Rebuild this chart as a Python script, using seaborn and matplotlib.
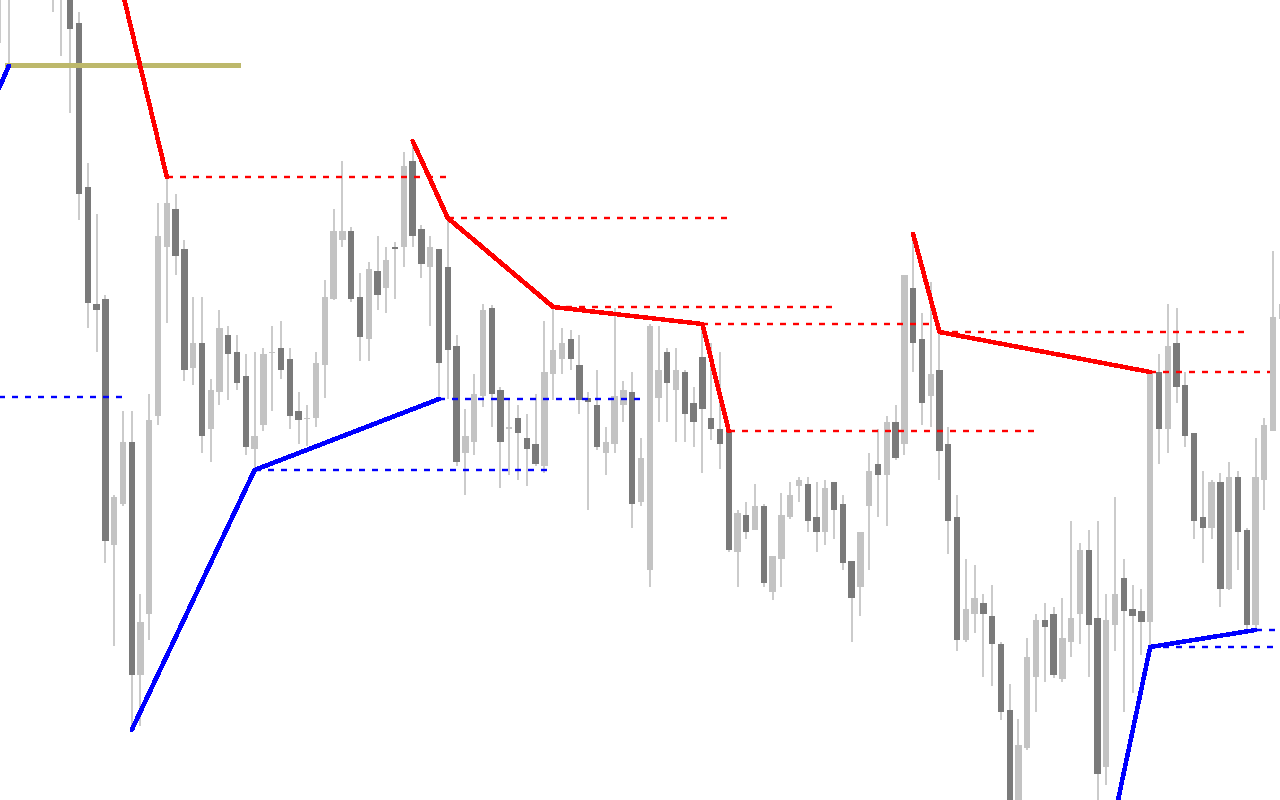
import numpy as np
import pandas as pd
import matplotlib
matplotlib.use("Agg")
import matplotlib.pyplot as plt
import seaborn as sns

# OHLC per bar (price points, bar index = position on the x axis)
opens = [820, 810, 830, 910, 1000, 1100, 1000, 860, 810, 777,
         613, 496, 501, 255, 296, 358, 125, 186, 384, 553,
         591, 551, 432, 457, 371, 408, 465, 448, 424, 351,
         375, 447, 452, 441, 389, 381, 382, 435, 501, 560,
         569, 503, 461, 529, 512, 553, 553, 639, 571, 533,
         551, 533, 454, 347, 358, 404, 492, 410, 371, 382,
         362, 356, 334, 426, 441, 461, 435, 402, 395, 347,
         356, 395, 408, 298, 230, 402, 448, 410, 428, 397,
         443, 382, 371, 369, 248, 285, 270, 294, 208, 241,
         283, 314, 316, 283, 268, 318, 296, 239, 213, 294,
         336, 325, 378, 356, 512, 461, 404, 430, 356, 283,
         160, 186, 197, 184, 156, 90, -10, 52, 123, 180,
         186, 121, 158, 186, 250, 182, 33, 175, 222, 191,
         189, 178, 428, 371, 457, 415, 367, 283, 272, 318,
         211, 323, 270, 175, 320, 369, 481]
highs = [880, 870, 930, 1030, 1120, 1136, 1010, 870, 820, 788,
         637, 586, 505, 305, 389, 389, 206, 406, 597, 623,
         606, 560, 503, 503, 421, 490, 474, 465, 446, 448,
         452, 474, 479, 452, 408, 395, 448, 520, 591, 639,
         573, 527, 538, 564, 553, 558, 648, 659, 575, 564,
         551, 582, 465, 391, 426, 496, 495, 413, 401, 395,
         386, 406, 479, 493, 472, 470, 465, 408, 430, 373,
         492, 419, 428, 362, 476, 474, 452, 452, 430, 413,
         476, 457, 448, 369, 290, 298, 316, 296, 244, 307,
         318, 323, 323, 318, 320, 318, 305, 239, 268, 347,
         371, 384, 395, 525, 566, 487, 518, 468, 373, 305,
         241, 235, 206, 215, 158, 116, 81, 162, 186, 197,
         193, 202, 279, 257, 270, 279, 206, 303, 241, 215,
         211, 428, 446, 496, 492, 428, 367, 329, 320, 327,
         338, 329, 272, 362, 382, 549, 510]
lows = [757, 734, 820, 900, 990, 980, 788, 744, 687, 580,
        472, 448, 237, 154, 294, 70, 74, 160, 375, 477,
        525, 419, 415, 347, 338, 395, 400, 410, 345, 330,
        369, 389, 421, 371, 356, 354, 373, 402, 500, 553,
        498, 439, 439, 490, 487, 501, 533, 553, 522, 474,
        401, 401, 334, 305, 345, 393, 373, 312, 325, 320,
        314, 334, 327, 400, 426, 430, 386, 290, 350, 325,
        347, 378, 272, 294, 213, 378, 378, 358, 358, 353,
        327, 360, 331, 248, 213, 261, 270, 213, 200, 213,
        281, 298, 268, 248, 255, 261, 230, 158, 184, 230,
        283, 274, 340, 345, 428, 375, 373, 320, 246, 149,
        158, 167, 123, 114, 80, -20, -30, 50, 88, 118,
        122, 118, 143, 156, 123, -98, 15, 149, 88, 107,
        145, 153, 336, 347, 397, 353, 261, 237, 261, 193,
        210, 230, 170, 170, 290, 369, 470]
closes = [860, 850, 910, 1000, 1100, 1000, 860, 810, 771, 606,
          497, 490, 259, 303, 358, 125, 178, 380, 564, 597,
          544, 430, 457, 364, 410, 472, 446, 417, 353, 364,
          446, 448, 430, 384, 380, 382, 437, 503, 569, 569,
          501, 463, 531, 505, 540, 551, 634, 564, 536, 553,
          437, 450, 338, 364, 406, 490, 406, 358, 373, 367,
          351, 336, 428, 450, 457, 441, 400, 398, 353, 358,
          404, 410, 296, 342, 474, 430, 417, 430, 386, 378,
          391, 371, 356, 250, 287, 268, 294, 217, 244, 285,
          305, 320, 279, 268, 312, 290, 237, 202, 268, 329,
          325, 378, 342, 525, 457, 397, 426, 349, 279, 160,
          191, 202, 186, 156, 88, -5, 55, 143, 180, 173,
          125, 162, 182, 250, 175, 26, 180, 206, 189, 184,
          178, 428, 371, 454, 413, 364, 279, 272, 318, 211,
          323, 268, 175, 323, 375, 483, 496]

# zigzag swing lines: (bar index, price)
red_swing_idx = [[5, 19], [47, 51, 63, 80, 83], [104, 107, 131]]
red_swing_px = [[1136, 623], [659, 582, 493, 476, 369], [566, 468, 428]]
blue_swing_idx = [[-1, 1], [15, 29, 50], [125, 131, 143]]
blue_swing_px = [[694, 734], [70, 330, 401], [-98, 153, 170]]

# dotted levels: start bar, end bar, price
red_lvl_start = [19, 51, 63, 80, 83, 107, 131]
red_lvl_end = [50.8, 82.9, 95.1, 106.2, 118.4, 142.1, 144.6]
red_lvl_px = [623, 582, 493, 476, 369, 468, 428]
blue_lvl_start = [-10, 29, 50, 131, 143]
blue_lvl_end = [14.1, 62.6, 72.9, 145.2, 147]
blue_lvl_px = [403, 330, 401, 153, 170]

# khaki level
gold_start, gold_end, gold_px = 0.55, 27.3, 735

sns.set_theme(style="white")

df = pd.DataFrame({"open": opens, "high": highs, "low": lows, "close": closes})
df["bar"] = np.arange(len(df))
df["up"] = df["close"] >= df["open"]

PX = 0.72  # points per pixel at dpi 100

fig = plt.figure(figsize=(12.8, 8), dpi=100)
ax = fig.add_axes([0, 0, 1, 1])

# wicks
ax.vlines(df["bar"], df["low"], df["high"], colors="#cbcbcb", lw=2 * PX,
          antialiased=False, zorder=1)
# bodies
body_h = np.maximum((df["close"] - df["open"]).abs(), 1.2)
body_bot = np.minimum(df["open"], df["close"])
body_col = np.where(df["up"], "#c3c3c3", "#7a7a7a")
ax.bar(df["bar"], body_h, bottom=body_bot, width=0.72, color=body_col,
       linewidth=0, antialiased=False, zorder=2)

lw_dash = 2.4 * PX
dash = (0, (6 * PX / lw_dash, 7 * PX / lw_dash))
ax.hlines(red_lvl_px, red_lvl_start, red_lvl_end, colors="#ff0000",
          lw=lw_dash, linestyles=[dash], zorder=3)
ax.hlines(blue_lvl_px, blue_lvl_start, blue_lvl_end, colors="#0000ff",
          lw=lw_dash, linestyles=[dash], zorder=3)
ax.hlines(gold_px, gold_start, gold_end, colors="#bdb86b", lw=5 * PX,
          antialiased=False, zorder=3)

for xs, ys in zip(red_swing_idx, red_swing_px):
    sns.lineplot(x=xs, y=ys, color="#ff0000", lw=3.4 * PX, sort=False,
                 estimator=None, legend=False, ax=ax, zorder=4,
                 antialiased=False)
for xs, ys in zip(blue_swing_idx, blue_swing_px):
    sns.lineplot(x=xs, y=ys, color="#0000ff", lw=3.4 * PX, sort=False,
                 estimator=None, legend=False, ax=ax, zorder=4,
                 antialiased=False)

ax.set_xlim(0, 1280 / 8.78)
ax.set_ylim(0, 800)
ax.axis("off")

fig.savefig("out.png", dpi=100)
